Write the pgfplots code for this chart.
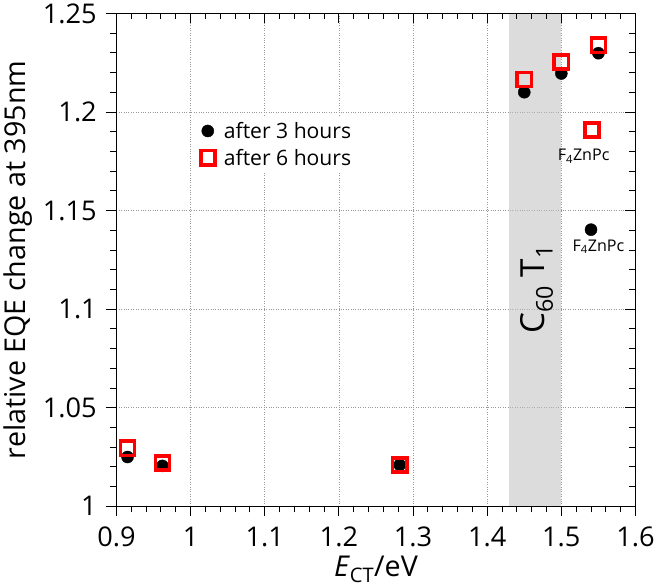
\documentclass[border=0pt]{standalone}
\usepackage{fontspec}
\setmainfont{Open Sans}
\usepackage{pgfplots}
\pgfplotsset{compat=1.18}
\begin{document}
\begin{tikzpicture}
\pgfplotsset{base/.style={
  scale only axis, width=516pt, height=490pt,
  xmin=0.9, xmax=1.6, ymin=1, ymax=1.25,
  xtick={0.9,1,1.1,1.2,1.3,1.4,1.5,1.6},
  ytick={1,1.05,1.1,1.15,1.2,1.25},
  minor x tick num=4, minor y tick num=4,
  major tick length=10pt, minor tick length=6pt,
  tick style={black, line width=0.9pt},
  axis line style={line width=1pt},
  /pgf/number format/assume math mode=true,
  /pgf/number format/fixed,
  /pgf/number format/precision=2,
  tick label style={font=\fontsize{27}{32}\selectfont},
}}
\begin{axis}[base,
  xtick pos=left, ytick pos=left, tick align=outside,
  grid=major, major grid style={dotted, gray!80, line width=0.6pt},
  xlabel={\textit{E}\textsubscript{CT}/eV},
  ylabel={relative EQE change at 395nm},
  label style={font=\fontsize{28.5}{33}\selectfont},
  ylabel style={yshift=4pt},
  xlabel style={yshift=-2pt},
  xticklabel style={yshift=-7pt},
  yticklabel style={xshift=-6pt},
  legend style={at={(axis cs:1.008,1.198)}, anchor=north west, draw=none, fill=white,
    font=\fontsize{21}{25}\selectfont, row sep=5pt, inner sep=4pt,
    /tikz/every odd column/.append style={column sep=7pt}},
  legend cell align=left,
]
\addplot[only marks, mark=*, mark size=6pt, black] coordinates {
 (0.915,1.025) (0.962,1.0205) (1.282,1.021) (1.45,1.21) (1.50,1.2195) (1.55,1.2298) (1.54,1.1403)
};
\addlegendentry{after 3 hours}
\addplot[only marks, mark=square, mark size=7pt, red, mark options={line width=3.6pt}] coordinates {
 (0.915,1.0294) (0.962,1.022) (1.282,1.021) (1.45,1.2165) (1.50,1.2253) (1.55,1.2338) (1.541,1.1908)
};
\addlegendentry{after 6 hours}
\fill[black!25.5, opacity=0.54] (axis cs:1.43,1) rectangle (axis cs:1.5,1.25);
\node[font=\fontsize{16}{19}\selectfont] at (axis cs:1.530,1.1775) {F\textsubscript{4}ZnPc};
\node[font=\fontsize{16}{19}\selectfont] at (axis cs:1.550,1.1316) {F\textsubscript{4}ZnPc};
\node[rotate=90, font=\fontsize{33}{38}\selectfont] at (axis cs:1.467,1.11) {C\textsubscript{60} T\textsubscript{1}};
\end{axis}
\begin{axis}[base,
  xtick pos=right, ytick pos=right, tick align=inside,
  xticklabels={}, yticklabels={},
]
\end{axis}
\end{tikzpicture}
\end{document}
